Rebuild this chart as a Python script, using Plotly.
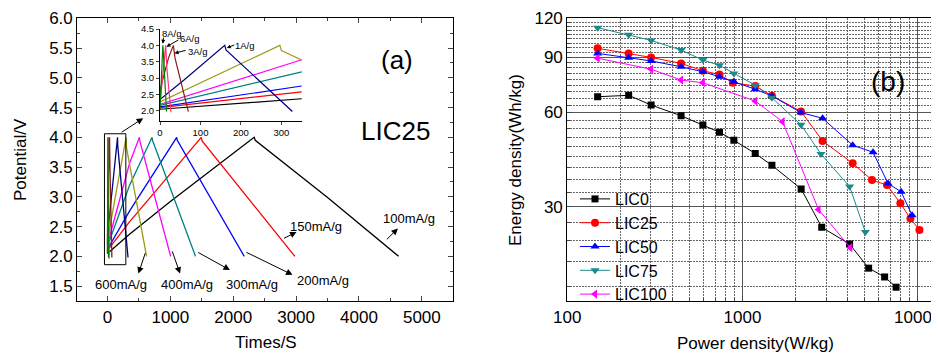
import plotly.graph_objects as go
import math

# ---------------- (a) galvanostatic charge/discharge, LIC25 ----------------
t_100 = [0, 350, 1000, 2333, 2350, 3500, 4630]
v_100 = [2.05, 2.37, 2.92, 4.0, 3.95, 2.99, 2.0]
t_150 = [0, 350, 1492, 1505, 2980]
v_150 = [2.10, 2.58, 4.0, 3.94, 2.0]
t_200 = [0, 350, 1101, 1110, 2175]
v_200 = [2.12, 2.76, 4.0, 3.95, 2.0]
t_300 = [0, 350, 709, 716, 1400]
v_300 = [2.17, 3.19, 4.0, 3.95, 2.0]
t_400 = [0, 350, 508, 514, 1005]
v_400 = [2.20, 3.56, 4.0, 3.94, 2.0]
t_600 = [0, 296, 300, 622]
v_600 = [2.27, 4.0, 3.84, 2.0]
t_1A = [0, 60, 160, 163, 327]
v_1A = [2.35, 2.95, 4.0, 3.86, 1.98]
t_3A = [0, 1, 12, 21, 33, 37, 70]
v_3A = [2.05, 2.68, 3.2, 3.62, 4.0, 3.62, 1.98]
t_6A = [0, 14, 17, 27]
v_6A = [2.2, 4.0, 3.3, 1.96]
t_8A = [0, 7, 8, 16]
v_8A = [2.05, 4.0, 3.85, 1.98]

# ---------------- (b) Ragone plot ----------------
P_LIC0 = [149, 224, 301, 446, 594, 739, 893, 1182, 1472, 2162, 2832, 4087, 5248, 6476, 7530]
E_LIC0 = [67.4, 68.1, 63.4, 58.6, 54.7, 51.9, 48.9, 44.4, 40.7, 34.2, 25.8, 22.8, 19.1, 17.9, 16.6]
P_LIC25 = [149, 224, 301, 446, 594, 739, 881, 1182, 1472, 2157, 2865, 4253, 5486, 6683, 7966, 9087, 10232]
E_LIC25 = [96.2, 92.7, 90.0, 86.1, 81.6, 79.3, 74.7, 72.9, 67.9, 60.5, 48.7, 41.3, 36.5, 35.2, 30.8, 27.5, 25.3]
P_LIC50 = [149, 224, 301, 446, 594, 739, 893, 1182, 1472, 2157, 2865, 4253, 5560, 6776, 8036, 9290]
E_LIC50 = [92.7, 89.8, 87.7, 84.0, 81.0, 78.1, 75.3, 71.2, 67.8, 60.0, 57.5, 47.2, 44.8, 35.6, 33.5, 28.2]
P_LIC75 = [149, 224, 301, 446, 594, 739, 893, 1182, 1472, 2157, 2805, 4087, 5027]
E_LIC75 = [112, 106.4, 102, 95, 88.3, 84.9, 80, 73.4, 66.9, 54.8, 44.2, 34.8, 24.9]
P_LIC100 = [149, 301, 446, 594, 1182, 1693, 2718, 4125]
E_LIC100 = [89.5, 82.5, 76.2, 74.7, 65.3, 56.1, 29.4, 22.2]

W, H = 939, 354
OFF = 8  # default body margin of the html page
FONT = "Liberation Sans, Arial, sans-serif"


def px(x):
    return (x - OFF) / W


def py(y):
    return 1 - (y - OFF) / H


fig = go.Figure()

cd_series = [
    (t_100, v_100, "#000000"),
    (t_150, v_150, "#FF0000"),
    (t_200, v_200, "#0000FF"),
    (t_300, v_300, "#008080"),
    (t_400, v_400, "#FF00FF"),
    (t_600, v_600, "#9A9A1A"),
    (t_1A, v_1A, "#000080"),
    (t_3A, v_3A, "#8B1A1A"),
    (t_6A, v_6A, "#FF3377"),
    (t_8A, v_8A, "#008000"),
]
for t, v, c in cd_series:
    fig.add_trace(go.Scatter(x=t, y=v, mode="lines", line=dict(color=c, width=1.3),
                             showlegend=False, xaxis="x", yaxis="y"))
for t, v, c in cd_series:
    fig.add_trace(go.Scatter(x=t, y=v, mode="lines", line=dict(color=c, width=1.2),
                             showlegend=False, xaxis="x3", yaxis="y3"))

rag = [
    ("LIC0", P_LIC0, E_LIC0, "#000000", "square", 7),
    ("LIC25", P_LIC25, E_LIC25, "#FF0000", "circle", 8),
    ("LIC50", P_LIC50, E_LIC50, "#0000FF", "triangle-up", 8),
    ("LIC75", P_LIC75, E_LIC75, "#1A8A8A", "triangle-down", 8),
    ("LIC100", P_LIC100, E_LIC100, "#FF00FF", "triangle-left", 8),
]
for name, P, E, c, sym, sz in rag:
    fig.add_trace(go.Scatter(x=P, y=E, mode="lines+markers", name=name,
                             line=dict(color=c, width=1),
                             marker=dict(color=c, symbol=sym, size=sz),
                             xaxis="x2", yaxis="y2"))

axis_common = dict(showline=True, linecolor="black", linewidth=1.2, zeroline=False,
                   tickfont=dict(family=FONT, size=17, color="black"), automargin=False,
                   ticklabeloverflow="allow")

minor_E = [b + k * 10 / 3 for b in (0, 30, 60, 90) for k in range(1, 9)]
minor_E = [m for m in minor_E if m > 15]
minor_P = [m * d for d in (100, 1000) for m in range(2, 10)]

fig.update_layout(
    width=W, height=H, margin=dict(l=0, r=0, t=0, b=0),
    paper_bgcolor="white", plot_bgcolor="rgba(0,0,0,0)",
    font=dict(family=FONT, color="black"),
    xaxis=dict(axis_common, domain=[px(77.3), px(453.3)], range=[-480, 5500],
               tickvals=[0, 1000, 2000, 3000, 4000, 5000], ticks="inside", ticklen=5,
               minor=dict(dtick=500, ticks="inside", ticklen=3), mirror="ticks",
               showgrid=False, anchor="y"),
    yaxis=dict(axis_common, domain=[py(301), py(18.3)], range=[1.25, 6.0],
               tickvals=[1.5, 2.0, 2.5, 3.0, 3.5, 4.0, 4.5, 5.0, 5.5, 6.0], tickformat=".1f",
               ticks="inside", ticklen=5, minor=dict(dtick=0.25, ticks="inside", ticklen=3),
               mirror="ticks", showgrid=False, anchor="x"),
    xaxis3=dict(showline=True, linecolor="black", linewidth=1, zeroline=False, automargin=False,
                domain=[px(160), px(301.7)], range=[0, 350], tickvals=[0, 100, 200, 300],
                ticks="outside", ticklen=3, showgrid=False, anchor="y3",
                tickfont=dict(family=FONT, size=9.5, color="black")),
    yaxis3=dict(showline=True, linecolor="black", linewidth=1, zeroline=False, automargin=False,
                domain=[py(120.7), py(29)], range=[1.7, 4.5],
                tickvals=[2.0, 2.5, 3.0, 3.5, 4.0, 4.5], tickformat=".1f",
                ticks="outside", ticklen=3, showgrid=False, anchor="x3",
                tickfont=dict(family=FONT, size=9.5, color="black")),
    xaxis2=dict(axis_common, type="log", domain=[px(567.3), px(939)], range=[2, 4.1216],
                tickvals=[100, 1000, 10000], ticktext=["100", "1000", "10000"],
                ticks="inside", ticklen=5, showgrid=True, gridcolor="#555555", gridwidth=1,
                minor=dict(tickmode="array", tickvals=minor_P, showgrid=True, griddash="2px,1px",
                           gridcolor="#666666", gridwidth=1, ticks="inside", ticklen=3),
                mirror=True, anchor="y2"),
    yaxis2=dict(axis_common, type="log", domain=[py(301), py(18.3)],
                range=[math.log10(15), math.log10(120)],
                tickvals=[30, 60, 90, 120], ticktext=["30", "60", "90", "120"],
                ticks="inside", ticklen=5, showgrid=True, gridcolor="#555555", gridwidth=1,
                minor=dict(tickmode="array", tickvals=minor_E, showgrid=True, griddash="2px,1px",
                           gridcolor="#666666", gridwidth=1, ticks="inside", ticklen=3),
                anchor="x2"),
    legend=dict(x=px(575), y=py(182), xanchor="left", yanchor="top",
                bgcolor="rgba(0,0,0,0)", font=dict(family=FONT, size=16, color="black"),
                tracegroupgap=0, itemwidth=30),
    showlegend=True,
)

# rectangle marking the zoomed region
fig.add_shape(type="rect", xref="x", yref="y", x0=-48, x1=292, y0=1.86, y1=4.06,
              line=dict(color="black", width=1))

ann = []


def text_ann(txt, x, y, size, angle=0):
    ann.append(dict(text=txt, x=px(x), y=py(y), xref="paper", yref="paper", showarrow=False,
                    xanchor="center", yanchor="middle", textangle=angle,
                    font=dict(family=FONT, size=size, color="black")))


text_ann("Potential/V", 20, 160, 17, -90)
text_ann("Times/S", 266, 342, 17)
text_ann("Energy density(Wh/kg)", 515, 160, 17, -90)
text_ann("Power density(W/kg)", 755, 343, 17)
text_ann("(a)", 397, 60, 26)
text_ann("LIC25", 395, 131, 26)
text_ann("(b)", 888, 81, 28)

labels_main = [
    ("150mA/g", 3324, 2.50), ("100mA/g", 4794, 2.64), ("600mA/g", 217, 1.52),
    ("400mA/g", 1270, 1.52), ("300mA/g", 2302, 1.52), ("200mA/g", 3429, 1.59),
]
for txt, x, y in labels_main:
    ann.append(dict(text=txt, x=x, y=y, xref="x", yref="y", showarrow=False,
                    font=dict(family=FONT, size=13, color="black")))

arrows_main = [  # (tail t, tail V, head t, head V)
    (2784, 2.29, 3006, 2.41), (4419, 2.26, 4619, 2.47), (609, 2.08, 492, 1.71),
    (1022, 2.11, 1154, 1.71), (1419, 2.08, 1948, 1.77), (2186, 2.08, 2943, 1.69),
    (202, 4.07, 567, 4.32),
]
for ax_, ay_, x_, y_ in arrows_main:
    ann.append(dict(text="", x=x_, y=y_, ax=ax_, ay=ay_, xref="x", yref="y", axref="x", ayref="y",
                    showarrow=True, arrowhead=2, arrowsize=1.3, arrowwidth=1, arrowcolor="black"))

labels_inset = [("8A/g", 29, 4.37), ("6A/g", 74, 4.2), ("3A/g", 93, 3.81), ("1A/g", 210, 4.01)]
for txt, x, y in labels_inset:
    ann.append(dict(text=txt, x=x, y=y, xref="x3", yref="y3", showarrow=False,
                    font=dict(family=FONT, size=9.5, color="black")))
arrows_inset = [(9, 4.28, 7, 4.05), (49, 4.19, 16, 3.96), (67, 3.86, 36, 3.76), (187, 4.03, 165, 3.92)]
for ax_, ay_, x_, y_ in arrows_inset:
    ann.append(dict(text="", x=x_, y=y_, ax=ax_, ay=ay_, xref="x3", yref="y3", axref="x3", ayref="y3",
                    showarrow=True, arrowhead=2, arrowsize=0.8, arrowwidth=1, arrowcolor="black"))

fig.update_layout(annotations=ann)
fig.write_html("out.html")
